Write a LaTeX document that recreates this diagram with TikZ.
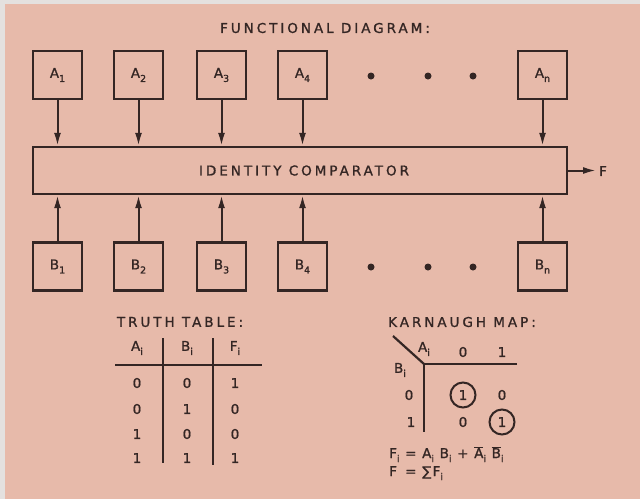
\documentclass[tikz,border=0pt]{standalone}
\usepackage{fontspec}
\setmainfont{DejaVu Sans}[LetterSpace=22,FakeBold=1.2]
\usetikzlibrary{arrows.meta}
\definecolor{bg}{RGB}{231,186,170}
\definecolor{ink}{RGB}{52,38,36}
\definecolor{strip}{RGB}{228,225,223}
\newcommand\dn[1]{\raisebox{-0.55ex}{\fontsize{9.5}{9.5}\selectfont #1}}
\newcommand\ovl[1]{$\overline{\mbox{#1}}$}
\begin{document}
\begin{tikzpicture}[x=1pt,y=-1pt,
  every node/.style={text=ink, font=\fontsize{13.5}{16}\selectfont, inner sep=0pt},
  blk/.style={draw=ink, line width=2.4pt, minimum width=49pt, minimum height=48pt},
  arr/.style={draw=ink, line width=2pt, -{Latex[length=13pt,width=7pt]}},
  rule/.style={draw=ink, line width=2.6pt},
  ring/.style={draw=ink, circle, line width=2pt, minimum size=25pt}]
\fill[bg] (0,0) rectangle (640,499);
\fill[strip] (0,0) rectangle (5,499);
\fill[strip] (0,0) rectangle (640,4);
\useasboundingbox (0,0) rectangle (640,499);

\node (title) at (325,28) {FUNCTIONAL DIAGRAM:};

% A row
\node[blk] (a1) at (57.5,75) {A\dn{1}};
\node[blk] (a2) at (138.5,75) {A\dn{2}};
\node[blk] (a3) at (221.5,75) {A\dn{3}};
\node[blk] (a4) at (302.5,75) {A\dn{4}};
\node[blk] (an) at (542.5,75) {A\dn{n}};
\foreach \x in {371,428,473} \fill[ink] (\x,76) circle (3.5pt);

% comparator
\node[draw=ink, line width=2.4pt, minimum width=534pt, minimum height=47pt] (cmp) at (300,170.5) {\hspace*{8pt}IDENTITY COMPARATOR};

% B row
\node[blk] (b1) at (57.5,266.5) {B\dn{1}};
\node[blk] (b2) at (138.5,266.5) {B\dn{2}};
\node[blk] (b3) at (221.5,266.5) {B\dn{3}};
\node[blk] (b4) at (302.5,266.5) {B\dn{4}};
\node[blk] (bn) at (542.5,266.5) {B\dn{n}};
\foreach \x in {371,428,473} \fill[ink] (\x,267) circle (3.5pt);

\foreach \n in {a1,a2,a3,a4,an} \draw[arr] (\n.south) -- (\n.south |- cmp.north);
\foreach \n in {b1,b2,b3,b4,bn} \draw[arr] (\n.north) -- (\n.north |- cmp.south);

\coordinate (fend) at (596,170.5);
\draw[arr] (cmp.east) -- (fend);
\node (F) at (603,171) {F};

% truth table
\node (tt) at (180,322) {TRUTH TABLE:};
\node (ha) at (137,348) {A\dn{i}};
\node (hb) at (187,348) {B\dn{i}};
\node (hf) at (235,348) {F\dn{i}};
\draw[rule] (115,365) -- (262,365);
\draw[rule] (163,338) -- (163,463);
\draw[rule] (213,338) -- (213,465);
\node (r1a) at (137,383) {0}; \node (r1b) at (187,383) {0}; \node (r1f) at (235,383) {1};
\node (r2a) at (137,409) {0}; \node (r2b) at (187,409) {1}; \node (r2f) at (235,409) {0};
\node (r3a) at (137,434) {1}; \node (r3b) at (187,434) {0}; \node (r3f) at (235,434) {0};
\node (r4a) at (137,458) {1}; \node (r4b) at (187,458) {1}; \node (r4f) at (235,458) {1};

% Karnaugh map
\node (km) at (462,322) {KARNAUGH MAP:};
\draw[rule, line width=2.2pt] (393,336) -- (424,364);
\draw[rule] (517,364) -- (424,364) -- (424,432);
\node (ka) at (424,349) {A\dn{i}};
\node (kc0) at (463,352) {0};
\node (kc1) at (502,352) {1};
\node (kb) at (400,370) {B\dn{i}};
\node (kr0) at (409,395) {0};
\node (kr1) at (411,422) {1};
\node[ring] (k00) at (463,395) {1};
\node (k01) at (502,395) {0};
\node (k10) at (463,422) {0};
\node[ring] (k11) at (502,422) {1};

\node[anchor=north west, font=\fontsize{13.5}{16}\selectfont\addfontfeature{LetterSpace=10}] (eq) at (389,446)
{\begin{tabular}{@{}l@{ }l@{}}
F\dn{i} & = A\dn{i} B\dn{i} + \ovl{A}\dn{i} \ovl{B}\dn{i}\\[2pt]
F & = ∑F\dn{i}
\end{tabular}};
\end{tikzpicture}
\end{document}
